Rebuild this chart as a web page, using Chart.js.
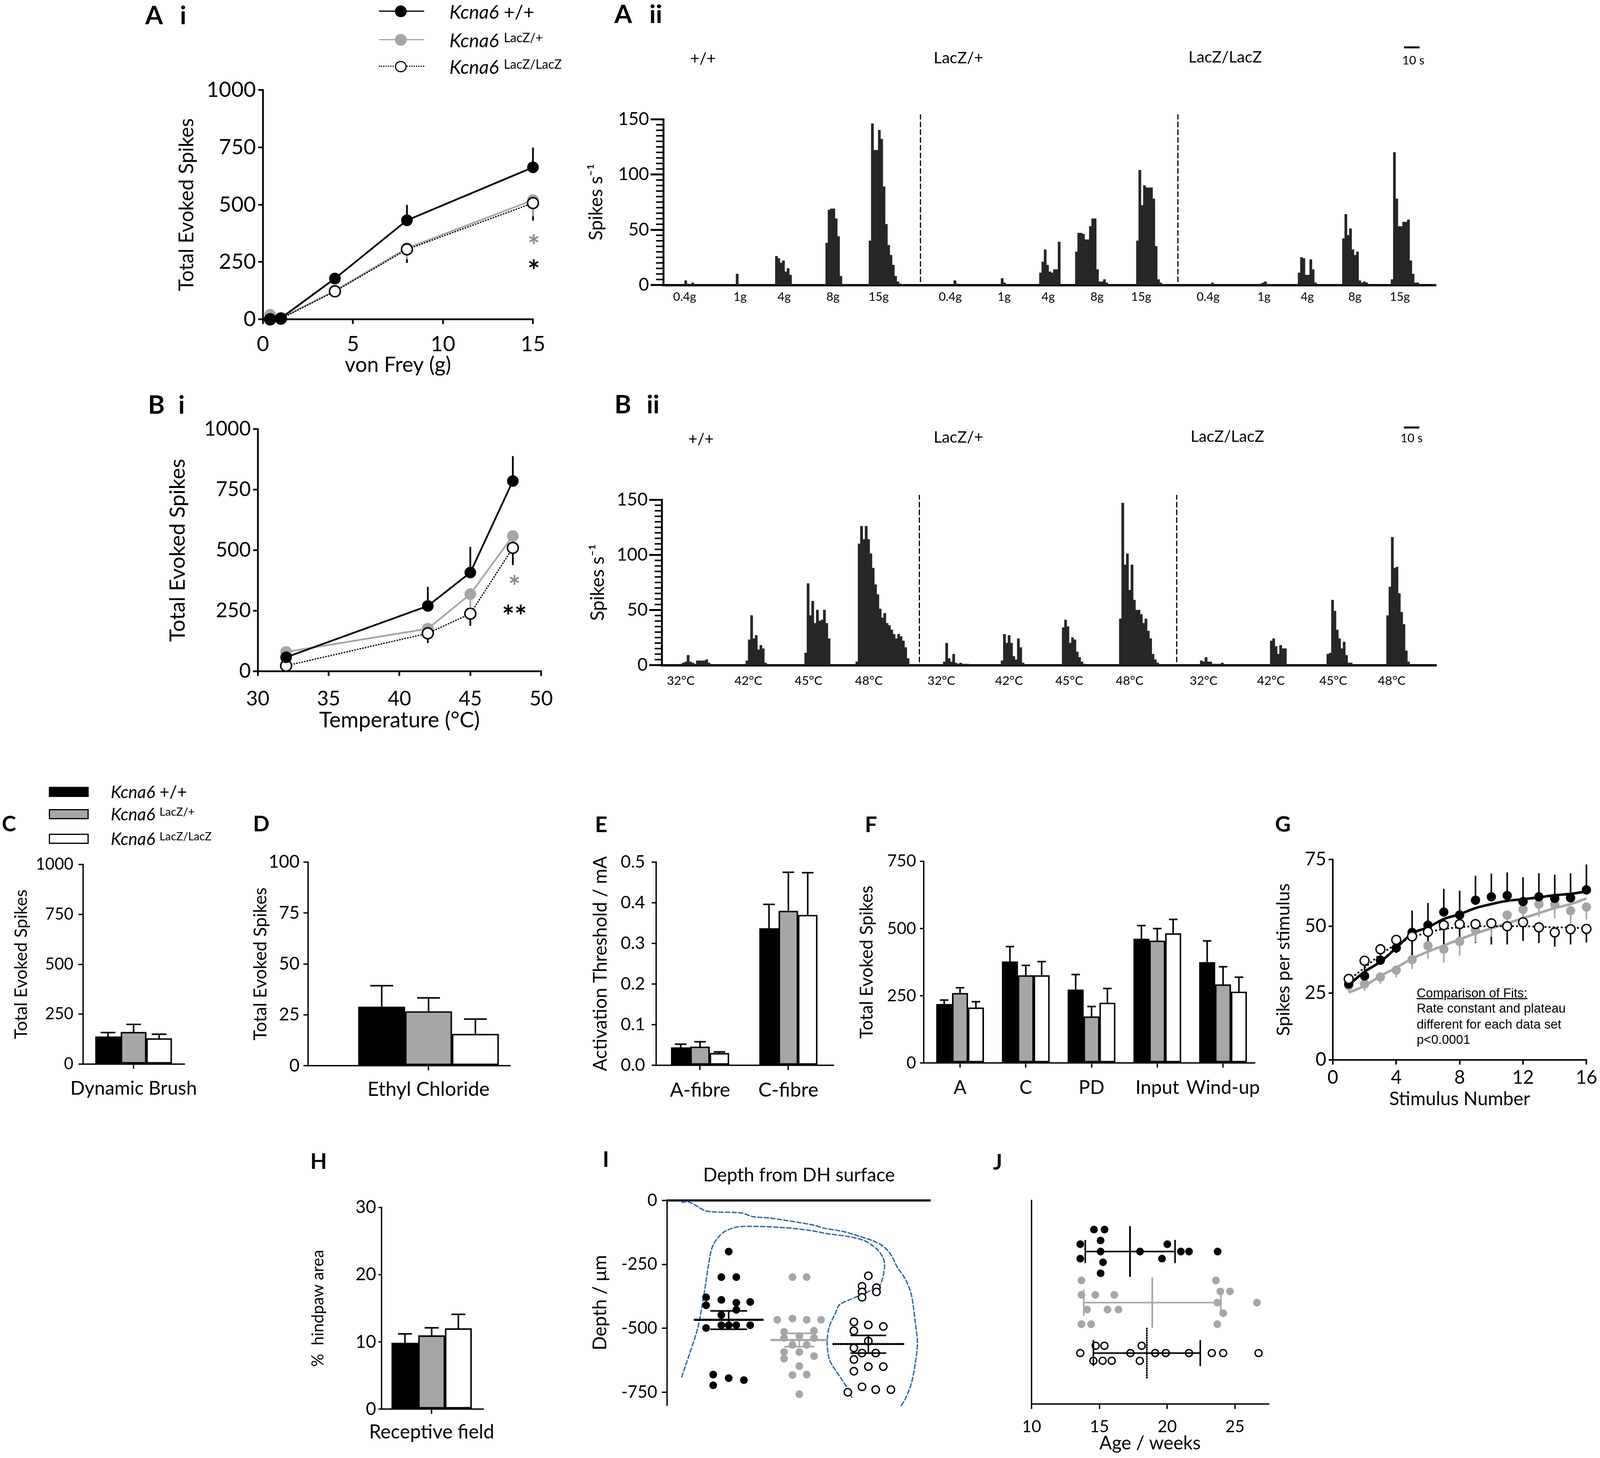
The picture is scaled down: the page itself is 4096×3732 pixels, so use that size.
<!DOCTYPE html>
<html>
<head>
<meta charset="utf-8">
<script src="https://cdn.jsdelivr.net/npm/chart.js@4.4.1/dist/chart.umd.min.js"></script>
<style>
  body { margin: 0; background: #fff; }
  #fig { position: relative; width: 4096px; height: 3732px; overflow: hidden; background: #fff; font-family: Lato, sans-serif; color: #000; }
  .t { position: absolute; white-space: nowrap; line-height: 1; }
  .sup { font-size: .66em; position: relative; top: -.42em; font-style: normal; }
  canvas { position: absolute; }
  .box { position: absolute; box-sizing: border-box; }
</style>
</head>
<body>
<div id="fig"></div>
<script>
// whole figure is laid out in reference pixels and scaled by S
const S = 0.991;
const fig = document.getElementById('fig');
Chart.defaults.font.family = 'Lato';
Chart.defaults.color = '#000';

const BLACK = '#000', GREY = '#a6a6a6', HIST = '#262626', BLUE = '#2f6ba6';

// ---------------- data ----------------
// A i : von Frey
const aiX = [0.4, 1, 4, 8, 15];
const aiWT = [0, 5, 178, 432, 663];
const aiWTHi = [null, null, 203, 499, 749];
const aiHet = [20, 5, 125, 310, 520];
const aiHetLo = [null, null, 112, 262, 450];
const aiKO = [0, 3, 122, 305, 507];
const aiKOLo = [null, null, 110, 246, 431];
const aiXTicks = [0, 5, 10, 15];
const spikeTicks = [0, 250, 500, 750, 1000];

// B i : heat
const biX = [32, 42, 45, 48];
const biWT = [58, 270, 408, 786];
const biWTHi = [null, 349, 514, 889];
const biHet = [80, 176, 319, 559];
const biHetLo = [null, 165, 265, 500];
const biKO = [23, 157, 238, 510];
const biKOLo = [null, 117, 188, 439];
const biXTicks = [30, 35, 40, 45, 50];

// A ii / B ii : rate histograms (bin = 1.5 s)
const BIN = 1.5;
const histYTicks = [0, 50, 100, 150];
const aiiStimT = [13.75, 49.5, 78, 109.5, 139, 185.25, 220, 248.5, 280, 308.5, 351.75, 387.75, 415.75, 446.5, 475.5];
const aiiStimLab = ['0.4g', '1g', '4g', '8g', '15g', '0.4g', '1g', '4g', '8g', '15g', '0.4g', '1g', '4g', '8g', '15g'];
const aiiStart = [13.7, 46.9, 72.3, 104.8, 132.7, 187.5, 218, 242.8, 266, 305.4, 353.8, 385, 409.8, 438.4, 469.8];
const aiiBins = [
  [4, 1, 0, 2], [10], [26, 24, 20, 22, 12, 15, 9], [38, 68, 69, 69, 60, 44, 8],
  [40, 146, 122, 122, 140, 132, 89, 55, 36, 27, 18, 8, 3, 1],
  [4, 1], [6, 2], [11, 21, 32, 18, 12, 11, 14, 14, 39], [30, 47, 47, 46, 41, 41, 53, 60, 60, 14, 3, 3, 5, 2],
  [40, 104, 72, 90, 88, 88, 88, 78, 35, 5, 2],
  [2], [1, 2, 3], [11, 25, 24, 9, 9, 23, 14, 2], [42, 64, 45, 51, 32, 27, 30, 4, 2, 3, 2],
  [5, 120, 78, 53, 53, 57, 57, 59, 22, 10, 2, 2]
];
const aiiSep = [166, 332.25];

const biiStimT = [12.1, 55.75, 94.6, 133.6, 180.4, 224.1, 263, 302, 349.8, 393.25, 433.5, 471.3];
const biiStimLab = ['32°C', '42°C', '45°C', '48°C', '32°C', '42°C', '45°C', '48°C', '32°C', '42°C', '45°C', '48°C'];
const biiStart = [11.6, 54.1, 92.1, 125.1, 181.6, 218.9, 258.4, 295.3, 347.6, 392.8, 429.3, 467.9];
const biiBins = [
  [1, 2, 3, 9, 3, 2, 1, 4, 4, 4, 4, 5, 2],
  [4, 23, 45, 24, 27, 14, 18, 15, 2],
  [11, 74, 45, 58, 38, 50, 40, 41, 50, 38, 24],
  [3, 110, 126, 114, 126, 114, 101, 88, 73, 64, 51, 43, 47, 38, 36, 32, 28, 24, 28, 26, 22, 16, 6],
  [3, 20, 6, 3, 10, 2, 1, 2, 1, 1, 1],
  [4, 28, 20, 27, 20, 8, 5, 24, 16, 2],
  [34, 41, 35, 20, 25, 23, 12, 7, 3, 1],
  [42, 147, 91, 101, 68, 91, 59, 50, 50, 46, 38, 42, 31, 24, 10, 5, 2],
  [4, 3, 7, 3, 3, 1, 1, 1, 1, 2],
  [22, 24, 17, 10, 18, 15, 15],
  [10, 11, 59, 49, 32, 24, 15, 21, 9, 2, 2],
  [45, 71, 116, 88, 89, 65, 48, 37, 13, 3]
];
const biiSep = [166.2, 332.4];

// C - F, H : bar panels (means and upper SEM)
const cCats = ['Dynamic Brush'];
const cWT = [138], cWTHi = [158], cHet = [161], cHetHi = [199], cKO = [129], cKOHi = [150];
const dCats = ['Ethyl Chloride'];
const dWT = [29], dWTHi = [39.3], dHet = [26.7], dHetHi = [33.3], dKO = [15.6], dKOHi = [22.9];
const dTicks = [0, 25, 50, 75, 100];
const eCats = ['A-fibre', 'C-fibre'];
const eWT = [0.044, 0.337], eWTHi = [0.052, 0.396];
const eHet = [0.046, 0.380], eHetHi = [0.058, 0.475];
const eKO = [0.030, 0.370], eKOHi = [0.033, 0.474];
const eTicks = [0, 0.1, 0.2, 0.3, 0.4, 0.5];
const fCats = ['A', 'C', 'PD', 'Input', 'Wind-up'];
const fWT = [219, 377, 273, 462, 375], fWTHi = [234, 433, 329, 511, 454];
const fHet = [260, 326, 173, 455, 292], fHetHi = [280, 363, 210, 500, 358];
const fKO = [206, 326, 224, 482, 265], fKOHi = [228, 377, 277, 534, 319];
const fTicks = [0, 250, 500, 750];
const hCats = ['Receptive field'];
const hWT = [9.85], hWTHi = [11.2], hHet = [10.96], hHetHi = [12.1], hKO = [12.0], hKOHi = [14.1];
const hTicks = [0, 10, 20, 30];

// G : wind-up
const gX = [1, 2, 3, 4, 5, 6, 7, 8, 9, 10, 11, 12, 13, 14, 15, 16];
const gWT = [28.4, 31.4, 37.3, 41.9, 47.7, 50.4, 55.3, 54.2, 59.7, 61, 61.5, 59.2, 61, 60.4, 60.6, 63.6];
const gWTHi = [29.9, 34.8, 39, 46.2, 55.8, 58.7, 64, 63.3, 68.9, 69.7, 70.1, 68.3, 69.8, 69.3, 69.8, 73.1];
const gHet = [27.8, 28.4, 31, 33.6, 37.5, 42.7, 41.4, 44.3, 48.5, 51, 54.2, 56.3, 58.3, 58.1, 55.8, 57.2];
const gHetLo = [25.5, 25.8, 28.5, 30.8, 34, 37.9, 36.4, 39, 44, 46, 50, 51.5, 53.5, 53, 51, 52.5];
const gKO = [30.3, 37.1, 41.4, 44.9, 46.2, 47.9, 50.4, 50.8, 50.8, 51.1, 50, 51.5, 49.6, 47.7, 48.9, 49];
const gKOLo = [28.8, 34.6, 38.4, 40, 38.6, 40.9, 42.8, 43.8, 43.7, 43.2, 43.2, 44.5, 43.7, 42.4, 43.2, 43.9];
const gWTFit = [28, 33, 36.7, 41.9, 47.3, 49.6, 52.7, 54.5, 56.8, 58.3, 59.5, 60.1, 60.8, 61.6, 62.1, 63];
const gHetFit = [25.2, 27.7, 31.4, 34.5, 37.9, 40.5, 42.8, 45.1, 47.3, 49.2, 51.1, 53, 54.9, 56.8, 58.3, 60.4];
const gKOFit = [29.9, 34.5, 39.4, 43.2, 45.8, 47.7, 49, 49.6, 50, 50, 50, 50, 49.8, 49.6, 49.5, 49.2];
const gXTicks = [0, 4, 8, 12, 16];
const gYTicks = [0, 25, 50, 75];

// I : depth of recorded neurones  [jitter position, depth µm]
const iWT = [[2.34,-200],[2.06,-300],[2.63,-300],[1.48,-379],[2.06,-389],[2.63,-400],[3.16,-397],[1.48,-410],[2.63,-428],[2.06,-448],[1.48,-499],[2.06,-488],[2.34,-488],[2.63,-488],[3.16,-488],[1.75,-681],[2.34,-695],[2.92,-703],[1.75,-723]];
const iHet = [[4.77,-300],[5.31,-300],[4.19,-467],[4.77,-462],[5.31,-467],[5.86,-467],[4.45,-514],[5.59,-510],[5.03,-530],[4.45,-538],[5.59,-538],[4.77,-565],[5.31,-565],[4.45,-593],[5.03,-593],[5.59,-609],[4.45,-619],[5.03,-648],[4.77,-683],[5.31,-681],[5.03,-758]];
const iKO = [[7.66,-295],[7.42,-336],[7.97,-341],[7.42,-358],[7.97,-358],[7.42,-379],[7.11,-475],[7.66,-487],[8.23,-493],[7.11,-510],[7.66,-550],[7.11,-577],[7.42,-597],[7.94,-597],[7.11,-622],[7.66,-650],[8.23,-650],[7.11,-668],[6.88,-750],[7.42,-729],[7.94,-740],[8.52,-740]];
const iMean = [-467, -546, -561.5];
const iSemLo = [-504, -572, -597];
const iSemHi = [-432, -520, -528];
const iYTicks = [0, -250, -500, -750];
// dorsal horn outline
const iOuter = [[0.55,-8],[0.78,-5.5],[1.02,-15.7],[1.41,-39],[1.72,-45],[2.81,-49],[3.28,-64],[3.91,-69],[4.53,-78.5],[5.0,-86],[5.63,-98],[5.94,-108],[6.72,-122],[7.34,-141],[7.81,-157],[8.2,-177],[8.52,-212],[8.75,-259],[9.06,-306],[9.3,-369],[9.45,-479],[9.53,-558],[9.45,-636],[9.3,-715],[9.06,-778],[8.88,-807]];
const iInner = [[0.55,-691],[0.70,-644],[0.86,-597],[1.17,-495],[1.41,-361],[1.56,-259],[1.72,-181],[2.03,-134],[2.34,-114],[2.81,-102],[4.38,-106],[5.47,-118],[6.09,-130],[6.88,-141],[7.5,-157],[7.97,-189],[8.2,-220],[8.28,-251],[8.2,-306],[8.05,-338],[7.66,-357],[7.03,-385],[6.56,-408],[6.41,-440],[6.17,-495],[6.09,-558],[6.17,-620],[6.33,-652],[6.64,-699],[6.88,-738],[7.03,-770]];

// J : age  [weeks, jitter row]
const jWT = [[14.6,8.57],[15.38,8.57],[15.09,8.03],[13.59,7.85],[20.01,7.85],[15.09,7.49],[18.0,7.49],[21.01,7.49],[21.61,7.49],[23.72,7.49],[13.59,7.14],[19.62,7.14],[15.27,6.96],[15.09,6.42]];
const jHet = [[13.68,6.07],[23.6,6.07],[13.68,5.36],[14.7,5.36],[16.1,5.36],[23.92,5.53],[24.63,5.53],[23.7,4.98],[26.62,4.98],[14.09,4.64],[15.6,4.64],[16.41,4.64],[24.13,4.46],[13.68,3.92],[14.39,3.92],[23.7,3.92]];
const jKO = [[13.59,2.5],[14.73,2.86],[15.37,2.86],[17.29,2.5],[18.12,2.86],[19.12,2.5],[19.9,2.5],[21.61,2.5],[23.29,2.5],[24.13,2.5],[26.74,2.5],[14.56,2.12],[15.24,2.12],[15.91,2.12],[17.98,2.12]];
const jMean = [17.26, 18.9, 18.5];
const jLo = [13.96, 13.85, 14.56];
const jHi = [20.58, 23.96, 22.44];
const jXTicks = [10, 15, 20, 25];

// ---------------- layout of the summary marks (not data) ----------------
const iCentre = [2.34, 5.03, 7.66], iMeanHalf = [1.33, 1.1, 1.33], iCapHalf = [0.7, 0.57, 0.68];
const jRow = [7.49, 4.98, 2.5], jMeanHalf = [1.245, 1.235, 1.21], jCapHalf = [0.57, 0.645, 0.64];

// ---------------- plugins ----------------
const errorBars = {
  id: 'errorBars',
  beforeDatasetsDraw(chart) {
    const ctx = chart.ctx;
    chart.data.datasets.forEach((ds, i) => {
      if (!ds.errHi && !ds.errLo) return;
      const meta = chart.getDatasetMeta(i);
      const ys = chart.scales[meta.yAxisID];
      ctx.save();
      ctx.strokeStyle = ds.errC || BLACK;
      ctx.lineWidth = (ds.errW || 4) * S;
      meta.data.forEach((el, j) => {
        [ds.errHi && ds.errHi[j], ds.errLo && ds.errLo[j]].forEach(v => {
          if (v == null) return;
          const y1 = ys.getPixelForValue(v);
          ctx.beginPath(); ctx.moveTo(el.x, el.y); ctx.lineTo(el.x, y1); ctx.stroke();
          if (ds.errCap) {
            const h = ds.errCap * S / 2;
            ctx.beginPath(); ctx.moveTo(el.x - h, y1); ctx.lineTo(el.x + h, y1); ctx.stroke();
          }
        });
      });
      ctx.restore();
    });
  }
};
const minorTicks = {
  id: 'minorTicks',
  afterDraw(chart, args, opts) {
    if (!opts || !opts.step) return;
    const ys = chart.scales.y, ctx = chart.ctx;
    ctx.save();
    ctx.strokeStyle = BLACK;
    ctx.lineWidth = opts.width * S;
    for (let v = ys.min; v <= ys.max + 1e-9; v += opts.step) {
      const y = ys.getPixelForValue(v);
      ctx.beginPath(); ctx.moveTo(ys.right - opts.len * S, y); ctx.lineTo(ys.right, y); ctx.stroke();
    }
    ctx.restore();
  }
};
Chart.register(errorBars, minorTicks);

// ---------------- helpers ----------------
function ax(pos, size, o) {
  const vertical = pos === 'left';
  return {
    type: 'linear', position: pos, min: o.min, max: o.max, offset: false,
    afterFit(s) {
      if (vertical) { s.width = size * S; s.paddingTop = 0; s.paddingBottom = 0; }
      else { s.height = size * S; s.paddingLeft = 0; s.paddingRight = 0; }
    },
    afterBuildTicks(s) { s.ticks = (o.ticks || [o.min]).map(v => ({ value: v })); },
    border: { display: (o.bw || 0) > 0, color: BLACK, width: (o.bw || 0) * S },
    grid: { offset: false, drawOnChartArea: false, drawTicks: !!o.tl, tickLength: (o.tl || 0) * S,
            tickWidth: (o.bw || 1) * S, tickColor: BLACK, color: BLACK, lineWidth: (o.bw || 1) * S },
    ticks: { display: !!o.ticks && o.labels !== false, autoSkip: false, maxRotation: 0, minRotation: 0,
             padding: (o.pad || 0) * S, color: BLACK, font: { size: (o.fs || 40) * S, lineHeight: 1 },
             callback: o.fmt || (v => v) },
    title: o.title ? { display: true, text: o.title, padding: 0, color: BLACK,
                       font: { size: o.tfs * S, lineHeight: 1 } } : { display: false }
  };
}

function mk(type, plot, m, datasets, scales, plugins) {
  const [px, py, pw, ph] = plot, [L, T, R, B] = m;
  const c = document.createElement('canvas');
  const W = Math.round((pw + L + R) * S), H = Math.round((ph + T + B) * S);
  c.width = W; c.height = H;
  c.style.width = W + 'px'; c.style.height = H + 'px';
  c.style.left = Math.round((px - L) * S) + 'px';
  c.style.top = Math.round((py - T) * S) + 'px';
  fig.appendChild(c);
  const bottomPad = scales.x.position === 'top' ? B * S : 0;
  return new Chart(c, {
    type,
    data: { datasets },
    options: {
      responsive: false, animation: false, events: [], devicePixelRatio: 1,
      layout: { autoPadding: false, padding: { left: 0, top: T * S, right: R * S, bottom: bottomPad } },
      plugins: Object.assign({ legend: { display: false }, tooltip: { enabled: false } }, plugins || {}),
      scales
    }
  });
}

const xy = (xs, ys) => xs.map((x, i) => ({ x, y: ys[i] }));
const pairs = arr => arr.map(p => ({ x: p[0], y: p[1] }));
function series(data, o) {
  return Object.assign({ data, showLine: false, pointRadius: 0, borderWidth: 0, clip: false }, o);
}
const line = (col, w, dash) => ({ showLine: true, borderColor: col, borderWidth: w * S,
  borderDash: dash ? dash.map(d => d * S) : [], borderCapStyle: dash ? 'round' : 'butt' });
const dot = (col, r) => ({ pointRadius: r * S, pointBackgroundColor: col, pointBorderColor: col, pointBorderWidth: 0 });
const ring = (r, w) => ({ pointRadius: r * S, pointBackgroundColor: '#fff', pointBorderColor: BLACK, pointBorderWidth: w * S });
function seg(x1, y1, x2, y2, col, w, dash) {
  return series([{ x: x1, y: y1 }, { x: x2, y: y2 }], line(col, w, dash));
}
function bars(vals, hi, fill, th, cap) {
  return { type: 'bar', data: vals.map((v, i) => ({ x: i, y: v })), backgroundColor: fill, borderColor: BLACK,
           borderWidth: 4 * S, borderSkipped: false, barThickness: th * S, errHi: hi, errCap: cap, errW: 4 };
}
// each bin value is held from its own start time to the next point
function hist(starts, bins) {
  const p = [];
  starts.forEach((t0, k) => {
    p.push({ x: t0, y: 0 });
    bins[k].forEach((v, i) => p.push({ x: t0 + (i + 1) * BIN, y: v }));
    p.push({ x: t0 + bins[k].length * BIN, y: 0 });
  });
  return series(p, { showLine: true, stepped: 'after', fill: 'origin', backgroundColor: HIST,
                     borderColor: HIST, borderWidth: 1 });
}

function txt(html, x, y, size, o = {}) {
  const d = document.createElement('div');
  d.className = 't';
  d.innerHTML = html;
  Object.assign(d.style, {
    left: (x * S) + 'px', top: (y * S) + 'px', fontSize: (size * S) + 'px',
    transform: 'translate(' + (o.a === 'l' ? '0' : o.a === 'r' ? '-100%' : '-50%') + ',-50%)',
    fontWeight: o.b ? '700' : '400', fontStyle: o.i ? 'italic' : 'normal',
    color: o.c || BLACK, fontFamily: o.f || 'Lato', textDecoration: o.u ? 'underline' : 'none'
  });
  fig.appendChild(d);
}
function box(x, y, w, h, css) {
  const d = document.createElement('div');
  d.className = 'box';
  Object.assign(d.style, { left: x * S + 'px', top: y * S + 'px', width: w * S + 'px', height: h * S + 'px' }, css);
  fig.appendChild(d);
}

// ---------------- A i ----------------
mk('scatter', [679, 233, 698, 592], [222, 40, 45, 145], [
  series(xy(aiX, aiWT), Object.assign(line(BLACK, 4.5), dot(BLACK, 15), { errHi: aiWTHi, errW: 4.5 })),
  series(xy(aiX, aiKO), Object.assign(line(BLACK, 3.5, [1, 6]), ring(14, 4), { errLo: aiKOLo, errW: 4.5 })),
  series(xy(aiX, aiHet), Object.assign(line(GREY, 4.5), dot(GREY, 15), { errLo: aiHetLo, errW: 4.5, errC: GREY }))
], {
  x: ax('bottom', 145, { min: 0, max: 15, ticks: aiXTicks, fs: 55, tl: 12, pad: 25, bw: 4.5, title: 'von Frey (g)', tfs: 54 }),
  y: ax('left', 222, { min: 0, max: 1000, ticks: spikeTicks, fs: 55, tl: 12, pad: 6, bw: 4.5, title: 'Total Evoked Spikes', tfs: 52 })
});

// ---------------- B i ----------------
mk('scatter', [666, 1108.6, 732, 625], [234, 40, 45, 155], [
  series(xy(biX, biWT), Object.assign(line(BLACK, 4.5), dot(BLACK, 15), { errHi: biWTHi, errW: 4.5 })),
  series(xy(biX, biKO), Object.assign(line(BLACK, 3.5, [1, 6]), ring(14, 4), { errLo: biKOLo, errW: 4.5 })),
  series(xy(biX, biHet), Object.assign(line(GREY, 4.5), dot(GREY, 15), { errLo: biHetLo, errW: 4.5, errC: GREY }))
], {
  x: ax('bottom', 155, { min: 30, max: 50, ticks: biXTicks, fs: 52, tl: 12, pad: 34, bw: 4.5, title: 'Temperature (°C)', tfs: 56 }),
  y: ax('left', 234, { min: 0, max: 1000, ticks: spikeTicks, fs: 52, tl: 12, pad: 6, bw: 4.5, title: 'Total Evoked Spikes', tfs: 55 })
});

// ---------------- A ii / B ii ----------------
function histPanel(plot, L, starts, bins, sep, stimT, stimLab, pad, fs, bar) {
  mk('scatter', plot, [L, 200, 20, 60], [
    hist(starts, bins),
    seg(sep[0], 3, sep[0], 154, BLACK, 3, [12, 8]),
    seg(sep[1], 3, sep[1], 154, BLACK, 3, [12, 8]),
    seg(bar[0], bar[1], bar[0] + 10, bar[1], BLACK, 5)
  ], {
    x: ax('bottom', 60, { min: 0, max: plot[2] / 4, ticks: stimT, fs, pad, bw: 6, fmt: (v, i) => stimLab[i] }),
    y: ax('left', L, { min: 0, max: 150, ticks: histYTicks, fs: 46, tl: 33, pad: 4, bw: 5, title: 'Spikes s⁻¹', tfs: 48 })
  }, { minorTicks: { step: 5, len: 19, width: 4 } });
}
histPanel([1714, 307.5, 1993.5, 428.5], 197, aiiStart, aiiBins, aiiSep, aiiStimT, aiiStimLab, 15.5, 31, [478.25, 215]);
histPanel([1710.5, 1290.7, 1998.5, 427.3], 189.5, biiStart, biiBins, biiSep, biiStimT, biiStimLab, 25, 32, [479.1, 215.5]);

// ---------------- bar panels ----------------
function barPanel(plot, L, xr, cats, sets, th, cap, yo, pad, cfs, title, tfs) {
  mk('bar', plot, [L, 30, 30, 95], [
    bars(sets[0], sets[1], BLACK, th, cap),
    bars(sets[2], sets[3], GREY, th, cap),
    bars(sets[4], sets[5], '#fff', th, cap)
  ], {
    x: ax('bottom', 95, { min: xr[0], max: xr[1], ticks: cats.map((c, i) => i), fs: cfs, tl: 12, pad, bw: 3.5, fmt: (v, i) => cats[i] }),
    y: ax('left', L, Object.assign({ bw: 3.5, title, tfs }, yo))
  });
}
barPanel([214.6, 2233, 261, 516], 182.4, [-0.5, 0.5], cCats, [cWT, cWTHi, cHet, cHetHi, cKO, cKOHi], 66, 38,
  { min: 0, max: 1000, ticks: spikeTicks, fs: 42, tl: 12, pad: 13 }, 26.5, 49, 'Total Evoked Spikes', 45);
barPanel([795.5, 2226.4, 521.5, 525.6], 145, [-0.597, 0.403], dCats, [dWT, dWTHi, dHet, dHetHi, dKO, dKOHi], 121, 59,
  { min: 0, max: 100, ticks: dTicks, fs: 46, tl: 12, pad: 10 }, 23.5, 51, 'Total Evoked Spikes', 46);
barPanel([1695, 2226.8, 457, 525.2], 167.5, [-0.496, 1.509], eCats, [eWT, eWTHi, eHet, eHetHi, eKO, eKOHi], 50, 30,
  { min: 0, max: 0.5, ticks: eTicks, fs: 45, tl: 12, pad: 17, fmt: v => v.toFixed(1) }, 27, 51, 'Activation Threshold / mA', 48);
barPanel([2386, 2225, 854, 520.6], 169.5, [-0.551, 4.477], fCats, [fWT, fWTHi, fHet, fHetHi, fKO, fKOHi], 41, 22,
  { min: 0, max: 750, ticks: fTicks, fs: 43, tl: 10, pad: 10 }, 28, 49, 'Total Evoked Spikes', 46);
barPanel([985.5, 3118.5, 261.5, 521], 184.5, [-0.494, 0.506], hCats, [hWT, hWTHi, hHet, hHetHi, hKO, hKOHi], 69, 36,
  { min: 0, max: 30, ticks: hTicks, fs: 46, tl: 8, pad: 6 }, 22.5, 50, '%  hindpaw area', 42);

// ---------------- G ----------------
mk('scatter', [3443, 2220, 655, 517.8], [150.5, 30, 30, 125], [
  series(xy(gX, gKO), Object.assign(ring(11.5, 3.5), { errLo: gKOLo, errW: 4 })),
  series(xy(gX, gWT), Object.assign(dot(BLACK, 12), { errHi: gWTHi, errW: 4 })),
  series(xy(gX, gHet), Object.assign(dot(GREY, 12), { errLo: gHetLo, errW: 4, errC: GREY })),
  series(xy(gX, gKOFit), Object.assign(line(BLACK, 5, [0.5, 10]), { tension: 0.4, cubicInterpolationMode: 'monotone' })),
  series(xy(gX, gWTFit), Object.assign(line(BLACK, 6.5), { tension: 0.4, cubicInterpolationMode: 'monotone' })),
  series(xy(gX, gHetFit), Object.assign(line(GREY, 6.5), { tension: 0.4, cubicInterpolationMode: 'monotone' }))
], {
  x: ax('bottom', 125, { min: 0, max: 16, ticks: gXTicks, fs: 48, tl: 12, pad: 10, bw: 4, title: 'Stimulus Number', tfs: 48 }),
  y: ax('left', 150.5, { min: 0, max: 75, ticks: gYTicks, fs: 48, tl: 11, pad: 6, bw: 4, title: 'Spikes per stimulus', tfs: 47 })
});

// ---------------- I ----------------
const iSets = [];
const iCols = [BLACK, GREY, BLACK];
[0, 1, 2].forEach(k => {
  const c = iCentre[k], col = iCols[k];
  iSets.push(seg(c - iMeanHalf[k], iMean[k], c + iMeanHalf[k], iMean[k], col, 5.5, k === 2 ? [1, 5] : null));
  iSets.push(seg(c, iSemLo[k], c, iSemHi[k], col, 4));
  iSets.push(seg(c - iCapHalf[k], iSemLo[k], c + iCapHalf[k], iSemLo[k], col, 4));
  iSets.push(seg(c - iCapHalf[k], iSemHi[k], c + iCapHalf[k], iSemHi[k], col, 4));
});
mk('scatter', [1723.4, 3100.3, 677.6, 528.7], [197, 40, 20, 30], iSets.concat([
  series(pairs(iWT), dot(BLACK, 10)),
  series(pairs(iHet), dot(GREY, 10)),
  series(pairs(iKO), ring(9.5, 3.5)),
  series(pairs(iOuter), Object.assign(line(BLUE, 3.5, [11, 6]), { tension: 0.3 })),
  series(pairs(iInner), Object.assign(line(BLUE, 3.5, [11, 6]), { tension: 0.3 }))
]), {
  x: ax('top', 0, { min: 0, max: 10, ticks: [0], labels: false, bw: 5.5 }),
  y: ax('left', 197, { min: -800, max: 0, ticks: iYTicks, fs: 44, tl: 14, pad: 12, bw: 3.5, title: 'Depth / μm', tfs: 48 })
});

// ---------------- J ----------------
const jSets = [];
[0, 1, 2].forEach(k => {
  const r = jRow[k], col = iCols[k];
  jSets.push(seg(jMean[k], r - jMeanHalf[k], jMean[k], r + jMeanHalf[k], col, 4.5, k === 2 ? [1, 5] : null));
  jSets.push(seg(jLo[k], r, jHi[k], r, col, 4));
  jSets.push(seg(jLo[k], r - jCapHalf[k], jLo[k], r + jCapHalf[k], col, 4));
  jSets.push(seg(jHi[k], r - jCapHalf[k], jHi[k], r + jCapHalf[k], col, 4));
});
mk('scatter', [2664.4, 3101, 612, 525.5], [20, 30, 30, 125.5], jSets.concat([
  series(pairs(jWT), dot(BLACK, 10)),
  series(pairs(jHet), dot(GREY, 10)),
  series(pairs(jKO), ring(9, 3.5))
]), {
  x: ax('bottom', 125.5, { min: 10, max: 27.47, ticks: jXTicks, fs: 43, tl: 13, pad: 24.5, bw: 3.5, title: 'Age / weeks', tfs: 48 }),
  y: ax('left', 20, { min: 0, max: 10, ticks: [0], labels: false, bw: 3.5 })
});

// ---------------- text, legends, panel letters ----------------
// panel letters
[['A', 398, 37], ['i', 473, 37], ['A', 1610, 34], ['ii', 1694, 34],
 ['B', 404, 1043], ['i', 469, 1043], ['B', 1609, 1042], ['ii', 1687, 1042]].forEach(p => txt(p[0], p[1], p[2], 66, { b: true }));
[['C', 23, 2126], ['D', 675, 2126], ['E', 1553, 2128], ['F', 2250, 2128], ['G', 3314, 2127],
 ['H', 823, 2998], ['I', 1565, 2993], ['J', 2577, 3000]].forEach(p => txt(p[0], p[1], p[2], 56, { b: true }));

// A i legend
const lgRows = [
  { y: 29, col: BLACK, style: 'solid', mk: 'fill', fill: BLACK, lab: '<i>Kcna6</i> +/+' },
  { y: 103, col: GREY, style: 'solid', mk: 'fill', fill: GREY, lab: '<i>Kcna6</i> <span class="sup">LacZ/+</span>' },
  { y: 172, col: BLACK, style: 'dotted', mk: 'ring', fill: '#fff', lab: '<i>Kcna6</i> <span class="sup">LacZ/LacZ</span>' }
];
lgRows.forEach(r => {
  box(979, r.y - 2, 117, 0, { borderTop: (4 * S) + 'px ' + r.style + ' ' + r.col });
  box(1020, r.y - 15, 30, 30, { borderRadius: '50%', background: r.fill,
    border: r.mk === 'ring' ? (4 * S) + 'px solid #000' : 'none' });
  txt(r.lab, 1161, r.y, 49, { a: 'l' });
});

// C legend
[{ y: 2045.5, fill: BLACK, lab: '<i>Kcna6</i> +/+' },
 { y: 2102.7, fill: GREY, lab: '<i>Kcna6</i> <span class="sup">LacZ/+</span>' },
 { y: 2166.5, fill: '#fff', lab: '<i>Kcna6</i> <span class="sup">LacZ/LacZ</span>' }].forEach(r => {
  box(126, r.y - 13, 103, 26, { background: r.fill, border: (4 * S) + 'px solid #000' });
  txt(r.lab, 286, r.y, 44, { a: 'l' });
});

// significance (asterisk glyph sits high in its box, hence the +12)
txt('*', 1379, 622 + 12, 76, { b: true, c: '#8c8c8c' });
txt('*', 1379, 686 + 12, 76, { b: true });
txt('*', 1329, 1502 + 12, 76, { b: true, c: '#8c8c8c' });
txt('**', 1329, 1578 + 12, 76, { b: true });

// genotype labels over the histograms
txt('+/+', 1816, 150, 41); txt('LacZ/+', 2476, 148, 41); txt('LacZ/LacZ', 3165, 146, 41); txt('10 s', 3651, 155, 31);
txt('+/+', 1811, 1133.5, 41); txt('LacZ/+', 2476, 1128.6, 41); txt('LacZ/LacZ', 3170.6, 1126, 41); txt('10 s', 3646.5, 1131, 31);

// G annotation
txt('Comparison of Fits:', 3659.6, 2565, 33, { a: 'l', f: 'Liberation Sans', u: true });
txt('Rate constant and plateau', 3659.6, 2604, 33, { a: 'l', f: 'Liberation Sans' });
txt('different for each data set', 3659.6, 2646, 33, { a: 'l', f: 'Liberation Sans' });
txt('p&lt;0.0001', 3659.6, 2685.5, 33, { a: 'l', f: 'Liberation Sans' });

// I title
txt('Depth from DH surface', 2064, 3033, 48);
</script>
</body>
</html>
